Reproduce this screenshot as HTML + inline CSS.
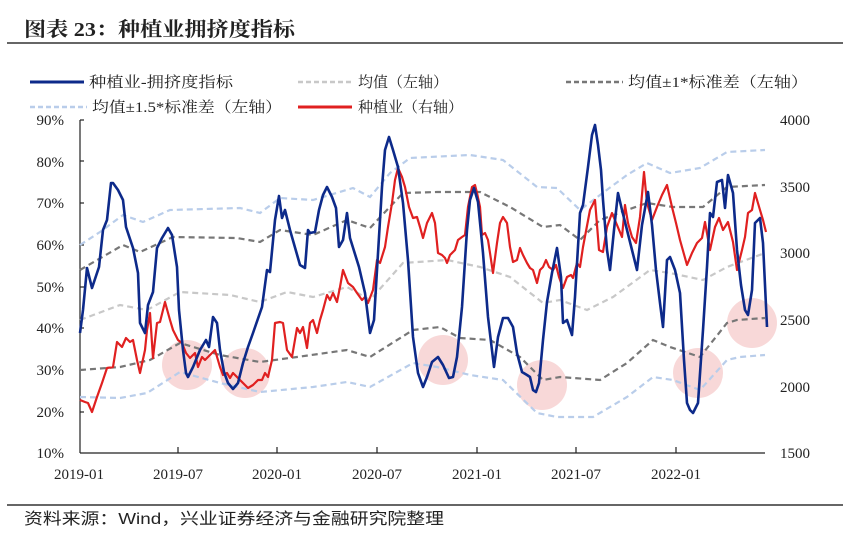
<!DOCTYPE html>
<html><head><meta charset="utf-8"><style>
body{margin:0;background:#fff;width:850px;height:542px;overflow:hidden}
svg text{font-family:"Liberation Serif","Noto Serif CJK SC",serif;fill:#222}
</style></head><body>
<svg width="850" height="542" viewBox="0 0 850 542">
<text x="24" y="36" font-size="20" font-weight="bold" textLength="271" lengthAdjust="spacingAndGlyphs">图表 23：种植业拥挤度指标</text>
<line x1="7" y1="43" x2="843" y2="43" stroke="#333" stroke-width="1.5"/>
<line x1="7" y1="505" x2="843" y2="505" stroke="#333" stroke-width="1.5"/>
<text x="24" y="524" font-size="16" textLength="420" lengthAdjust="spacingAndGlyphs" style="font-family:'Liberation Sans','Noto Sans CJK SC',sans-serif">资料来源：Wind，兴业证券经济与金融研究院整理</text>
<g font-size="15">
<line x1="30" y1="82" x2="84" y2="82" stroke="#0d2a8a" stroke-width="3"/><text x="89" y="87" textLength="144" lengthAdjust="spacingAndGlyphs">种植业-拥挤度指标</text>
<line x1="298" y1="82" x2="352" y2="82" stroke="#c8c8c8" stroke-width="2.5" stroke-dasharray="5,3"/><text x="358" y="87">均值（左轴）</text>
<line x1="566" y1="82" x2="623" y2="82" stroke="#777" stroke-width="2.5" stroke-dasharray="5,3"/><text x="628" y="87" textLength="180" lengthAdjust="spacingAndGlyphs">均值±1*标准差（左轴）</text>
<line x1="30" y1="107" x2="87" y2="107" stroke="#b9cdea" stroke-width="2.5" stroke-dasharray="5,3"/><text x="92" y="112" textLength="190" lengthAdjust="spacingAndGlyphs">均值±1.5*标准差（左轴）</text>
<line x1="298" y1="107" x2="352" y2="107" stroke="#e02020" stroke-width="3"/><text x="358" y="112">种植业（右轴）</text>
</g>
<g font-size="15">
<text x="64" y="125" text-anchor="end">90%</text><text x="64" y="167" text-anchor="end">80%</text><text x="64" y="208" text-anchor="end">70%</text><text x="64" y="250" text-anchor="end">60%</text><text x="64" y="292" text-anchor="end">50%</text><text x="64" y="333" text-anchor="end">40%</text><text x="64" y="375" text-anchor="end">30%</text><text x="64" y="417" text-anchor="end">20%</text><text x="64" y="458" text-anchor="end">10%</text>
<text x="780" y="125">4000</text><text x="780" y="192">3500</text><text x="780" y="258">3000</text><text x="780" y="325">2500</text><text x="780" y="392">2000</text><text x="780" y="458">1500</text>
<text x="79" y="479" text-anchor="middle">2019-01</text><text x="178" y="479" text-anchor="middle">2019-07</text><text x="277" y="479" text-anchor="middle">2020-01</text><text x="377" y="479" text-anchor="middle">2020-07</text><text x="477" y="479" text-anchor="middle">2021-01</text><text x="576" y="479" text-anchor="middle">2021-07</text><text x="676" y="479" text-anchor="middle">2022-01</text>
</g>
<g stroke="#222" stroke-width="1.2">
<line x1="80" y1="120" x2="80" y2="453"/>
<line x1="80" y1="120" x2="84" y2="120"/><line x1="80" y1="161" x2="84" y2="161"/><line x1="80" y1="203" x2="84" y2="203"/><line x1="80" y1="245" x2="84" y2="245"/><line x1="80" y1="287" x2="84" y2="287"/><line x1="80" y1="328" x2="84" y2="328"/><line x1="80" y1="370" x2="84" y2="370"/><line x1="80" y1="412" x2="84" y2="412"/>
<line x1="80" y1="453" x2="765" y2="453"/>
<line x1="178" y1="447" x2="178" y2="453"/><line x1="277" y1="447" x2="277" y2="453"/><line x1="377" y1="447" x2="377" y2="453"/><line x1="477" y1="447" x2="477" y2="453"/><line x1="576" y1="447" x2="576" y2="453"/><line x1="676" y1="447" x2="676" y2="453"/>
</g>
<g fill="#f2b8b8" fill-opacity="0.55">
<circle cx="187" cy="365" r="25"/><circle cx="245" cy="373" r="25"/><circle cx="443" cy="360" r="25"/><circle cx="542" cy="385" r="25"/><circle cx="698" cy="373" r="25"/><circle cx="752" cy="323" r="25"/>
</g>
<g fill="none" stroke-width="2.2" stroke-dasharray="6,4">
<polyline stroke="#c8c8c8" points="80,320 120,305 147,310 180,292 230,295 260,302 287,292 313,297 347,287 370,300 403,263 447,260 480,267 510,277 543,303 560,300 587,310 613,297 650,270 670,273 703,280 727,267 765,253"/>
<polyline stroke="#777" points="80,270 123,245 140,252 173,237 237,238 260,242 280,230 313,235 347,220 370,228 403,193 437,192 480,192 510,207 543,227 560,225 580,240 600,220 627,210 647,203 673,207 703,207 727,187 765,185"/>
<polyline stroke="#777" points="80,370 120,367 150,360 180,343 220,355 260,362 297,357 347,350 370,357 413,330 440,327 460,338 490,340 520,357 543,380 560,377 600,380 627,363 653,340 670,347 700,357 727,323 737,320 765,318"/>
<polyline stroke="#b9cdea" points="80,245 100,232 123,215 143,222 170,210 240,208 260,213 280,198 313,200 353,188 370,197 390,173 410,158 470,155 503,160 537,187 557,188 580,210 600,195 627,175 647,163 670,173 700,168 727,152 765,150"/>
<polyline stroke="#b9cdea" points="80,397 120,398 147,393 180,372 220,383 260,392 313,387 347,382 370,387 413,363 437,367 470,375 503,380 537,413 557,417 593,417 627,397 653,377 673,380 700,390 727,360 740,357 765,355"/>
</g>
<polyline fill="none" stroke="#e02020" stroke-width="2.2" stroke-linejoin="round" points="80,400 85,402 88,403 92,412 97,397 102,383 107,368 113,367 117,342 122,347 126,338 130,342 133,340 137,360 140,373 145,350 147,330 150,313 153,358 157,323 160,322 165,302 170,320 173,330 178,340 182,343 186,353 190,358 195,353 198,367 202,357 205,360 208,357 212,353 215,350 220,367 223,375 227,373 230,378 233,373 237,377 240,380 243,383 248,388 253,385 258,380 262,380 265,373 268,377 272,360 275,323 280,322 283,323 287,350 292,357 297,328 300,333 303,327 307,348 310,323 313,320 317,333 320,320 323,310 327,295 330,300 333,293 337,302 340,287 343,270 348,283 353,287 357,293 362,300 365,297 368,303 373,290 377,260 380,263 385,247 388,227 392,203 395,180 398,168 402,177 405,187 409,207 413,218 417,217 420,227 423,238 427,223 432,213 435,223 438,253 442,255 445,258 447,263 450,255 455,250 458,240 462,237 465,235 468,207 472,187 475,185 477,193 480,207 482,235 485,233 488,240 490,253 493,273 497,243 500,223 503,217 507,223 510,247 513,262 517,260 520,248 523,255 527,263 530,268 533,270 537,283 540,270 543,267 546,260 549,267 553,270 556,265 559,277 563,288 567,277 571,275 573,278 577,263 580,267 583,247 590,210 595,200 599,250 603,252 607,227 612,213 617,225 622,237 625,205 628,223 632,237 636,243 640,217 644,172 647,203 652,220 657,207 662,195 667,185 672,207 676,223 680,240 687,265 692,253 697,243 702,238 705,222 710,250 715,227 719,218 723,230 728,222 733,242 737,270 742,250 745,237 748,213 752,210 755,193 760,210 763,220 766,232"/>
<polyline fill="none" stroke="#0d2a8a" stroke-width="2.6" stroke-linejoin="round" points="80,333 83,310 87,268 92,288 99,267 103,230 107,220 111,183 113,183 118,190 123,200 126,227 133,248 138,273 140,323 145,333 148,305 153,292 157,248 162,238 168,228 172,235 177,267 179,310 183,350 186,373 188,377 193,367 200,350 206,340 209,347 213,317 217,323 220,350 224,372 228,383 233,389 238,383 243,363 248,347 253,333 262,307 267,270 270,272 275,220 279,196 282,218 285,210 290,230 300,265 305,268 308,230 310,233 315,232 319,210 323,195 327,187 332,197 336,208 339,247 343,240 347,213 350,238 359,267 365,293 370,333 374,320 377,270 382,187 385,150 389,137 393,150 398,167 403,203 408,260 413,337 418,373 423,387 427,377 432,362 438,357 443,365 449,378 453,377 457,357 462,307 467,230 470,200 474,188 478,202 483,253 488,317 494,367 498,337 503,318 508,318 513,327 517,353 522,372 527,375 530,377 533,390 536,392 539,383 543,340 547,302 552,273 557,248 561,277 563,323 567,320 572,335 575,297 580,213 583,205 588,167 592,135 595,125 598,145 601,170 603,200 607,250 610,270 614,230 618,193 622,210 627,230 632,250 637,270 642,225 648,192 652,225 656,270 660,303 663,327 667,260 670,257 675,270 680,293 684,360 687,403 690,410 693,413 698,403 703,330 707,267 710,213 713,217 717,182 722,180 725,208 728,175 733,193 737,250 741,285 745,310 748,315 752,290 755,223 760,218 763,243 767,327"/>
</svg>
</body></html>
